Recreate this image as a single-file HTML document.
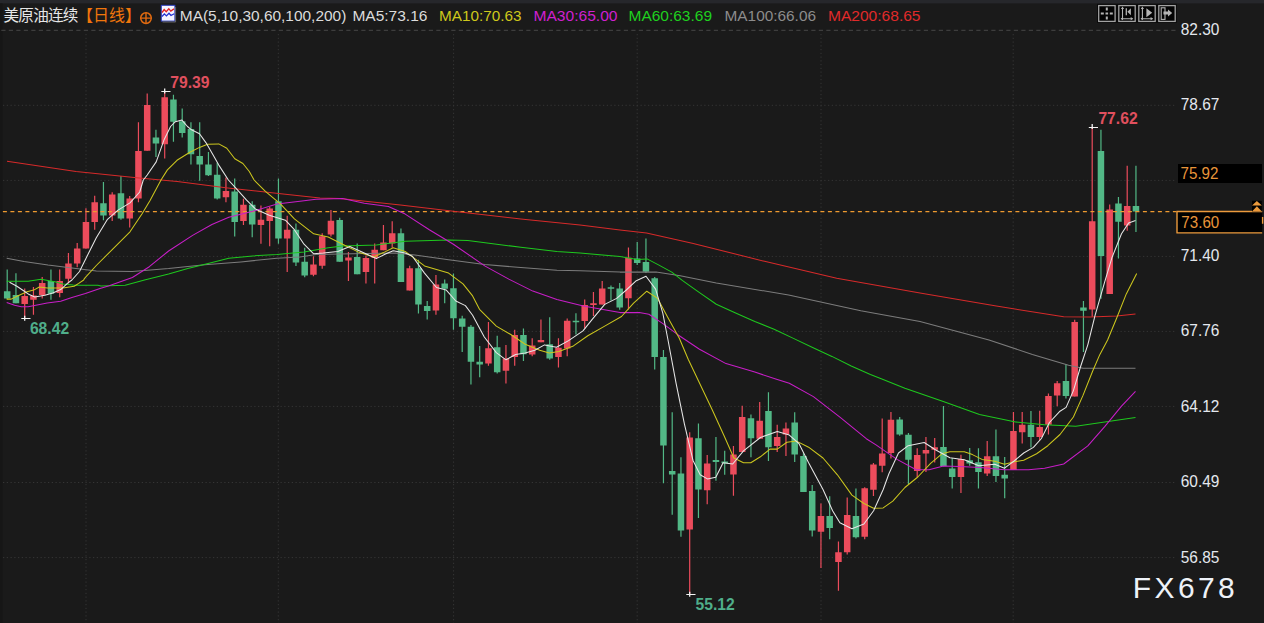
<!DOCTYPE html>
<html><head><meta charset="utf-8"><title>chart</title>
<style>html,body{margin:0;padding:0;background:#1a1a1a;overflow:hidden}body{width:1264px;height:623px;font-family:"Liberation Sans",sans-serif}</style>
</head><body>
<svg width="1264" height="623" viewBox="0 0 1264 623" style="display:block;font-family:'Liberation Sans',sans-serif">
<rect width="1264" height="623" fill="#1a1a1a"/>
<rect width="1264" height="3.4" fill="#26272b"/>
<rect x="0" y="3.4" width="2.6" height="623" fill="#161616"/>
<g stroke="#353535" stroke-width="1" stroke-dasharray="1.25 2.5" fill="none">
<path d="M3 105.3H1176"/>
<path d="M3 180.4H1176"/>
<path d="M3 256.4H1176"/>
<path d="M3 331.4H1176"/>
<path d="M3 406.4H1176"/>
<path d="M3 482.5H1176"/>
<path d="M3 557.6H1176"/>
<path d="M86 34V623"/>
<path d="M278.3 34V623"/>
<path d="M453.6 34V623"/>
<path d="M637.2 34V623"/>
<path d="M821 34V623"/>
<path d="M1013.2 34V623"/>
</g>
<path d="M1.3 30.3H1176" stroke="#464646" stroke-width="1" stroke-dasharray="4.2 3.3" fill="none"/>
<path d="M24.70 288.4V319.0M33.45 287.0V314.8M42.20 277.0V298.5M59.70 269.6V297.3M68.45 253.0V283.5M77.20 243.0V267.2M85.95 208.2V248.6M94.70 195.7V229.8M112.20 192.3V221.0M129.70 196.0V227.4M138.45 122.3V202.2M147.20 93.4V150.7M164.70 91.7V158.6M225.95 177.6V202.2M243.45 198.8V225.0M260.95 205.5V243.8M269.70 207.0V246.2M287.20 215.7V272.0M313.45 256.2V276.2M322.20 233.3V268.7M330.95 210.0V236.5M348.45 252.1V281.0M365.95 255.5V283.4M374.70 243.5V283.4M383.45 224.9V250.2M392.20 221.3V247.8M409.70 265.8V290.6M435.95 275.0V314.7M488.45 322.0V365.8M505.95 344.9V383.4M514.70 329.7V365.8M532.20 338.2V356.2M540.95 319.6V342.3M558.45 338.2V367.5M567.20 318.4V356.2M584.70 299.5V328.4M593.45 292.0V316.0M602.20 281.1V304.6M628.45 247.4V309.6M689.70 432.2V595.0M707.20 455.1V504.2M733.45 446.0V495.8M742.20 405.7V452.0M759.70 402.1V438.7M777.20 424.8V452.0M785.95 422.4V456.1M820.95 503.5V568.0M838.45 541.6V590.7M847.20 497.5V554.6M864.70 487.2V539.2M873.45 463.0V496.0M882.20 418.4V472.3M890.95 412.1V458.6M917.20 448.3V477.0M925.95 437.0V472.0M934.70 438.0V462.6M960.95 454.8V493.0M987.20 441.0V476.1M1013.45 411.9V469.9M1022.20 411.9V443.4M1039.70 410.7V440.4M1048.45 393.5V434.5M1057.20 381.0V406.2M1074.70 319.7V396.6M1092.20 127.3V316.8M1109.70 204.4V293.9M1127.20 165.8V230.8" stroke="#ec4c5c" stroke-width="1.2" fill="none"/>
<path d="M7.20 269.6V299.2M15.95 273.2V303.3M50.95 269.6V299.7M103.45 182.0V220.2M120.95 176.0V219.7M155.95 129.7V157.0M173.45 94.8V141.8M182.20 108.5V137.4M190.95 122.3V164.6M199.70 122.3V180.8M208.45 151.9V176.0M217.20 162.7V199.6M234.70 178.4V236.6M252.20 201.2V237.3M278.45 178.4V243.8M295.95 223.5V265.9M304.70 247.8V277.2M339.70 217.7V261.8M357.20 243.5V274.3M400.95 228.5V282.0M418.45 259.8V313.5M427.20 301.0V319.5M444.70 279.6V303.2M453.45 273.6V329.7M462.20 315.8V352.1M470.95 324.9V384.6M479.70 346.1V377.2M497.20 335.7V373.6M523.45 328.5V361.0M549.70 317.2V359.8M575.95 313.3V334.6M610.95 285.5V300.5M619.70 283.1V309.8M637.20 242.1V265.0M645.95 238.5V273.0M654.70 277.0V369.5M663.45 350.1V483.2M672.20 412.2V514.8M680.95 457.3V536.8M698.45 423.5V518.0M715.95 437.0V480.7M724.70 450.8V474.7M750.95 414.6V457.3M768.45 392.3V460.9M794.70 412.2V462.1M803.45 453.2V492.0M812.20 485.0V536.5M829.70 496.3V539.2M855.95 488.4V538.4M899.70 416.9V435.7M908.45 433.0V484.0M943.45 406.1V466.2M952.20 457.9V488.5M969.70 448.0V465.8M978.45 448.3V488.5M995.95 429.5V481.9M1004.70 457.1V498.2M1030.95 411.0V447.5M1065.95 364.0V398.5M1083.45 301.1V352.0M1100.95 129.7V298.7M1118.45 197.1V258.5M1135.95 165.8V232.0" stroke="#52b886" stroke-width="1.2" fill="none"/>
<path d="M21.45 296.0h6.5V304.0h-6.5zM30.20 295.6h6.5V299.7h-6.5zM38.95 283.0h6.5V295.0h-6.5zM56.45 281.0h6.5V293.0h-6.5zM65.20 263.6h6.5V278.7h-6.5zM73.95 248.6h6.5V263.6h-6.5zM82.70 222.1h6.5V248.6h-6.5zM91.45 202.2h6.5V222.1h-6.5zM108.95 194.5h6.5V215.6h-6.5zM126.45 198.4h6.5V218.5h-6.5zM135.20 151.1h6.5V198.4h-6.5zM143.95 104.9h6.5V150.7h-6.5zM161.45 97.2h6.5V144.2h-6.5zM222.70 191.0h6.5V197.2h-6.5zM240.20 204.8h6.5V221.0h-6.5zM257.70 219.7h6.5V225.0h-6.5zM266.45 208.4h6.5V221.0h-6.5zM283.95 229.8h6.5V238.4h-6.5zM310.20 264.6h6.5V274.8h-6.5zM318.95 236.2h6.5V265.8h-6.5zM327.70 220.8h6.5V234.5h-6.5zM345.20 257.4h6.5V260.6h-6.5zM362.70 258.1h6.5V271.9h-6.5zM371.45 249.7h6.5V258.1h-6.5zM380.20 242.5h6.5V250.2h-6.5zM388.95 233.3h6.5V243.5h-6.5zM406.45 268.3h6.5V290.6h-6.5zM432.70 284.6h6.5V310.4h-6.5zM485.20 348.3h6.5V363.4h-6.5zM502.70 358.6h6.5V370.7h-6.5zM511.45 335.0h6.5V356.9h-6.5zM528.95 345.4h6.5V354.5h-6.5zM537.70 340.1h6.5V342.3h-6.5zM555.20 347.8h6.5V356.9h-6.5zM563.95 320.7h6.5V348.5h-6.5zM581.45 305.0h6.5V321.0h-6.5zM590.20 303.2h6.5V305.0h-6.5zM598.95 288.4h6.5V304.6h-6.5zM625.20 257.8h6.5V298.3h-6.5zM686.45 437.5h6.5V529.5h-6.5zM703.95 463.5h6.5V490.3h-6.5zM730.20 454.4h6.5V474.5h-6.5zM738.95 417.1h6.5V452.0h-6.5zM756.45 420.7h6.5V438.7h-6.5zM773.95 437.0h6.5V446.0h-6.5zM782.70 428.6h6.5V434.6h-6.5zM817.70 516.0h6.5V531.7h-6.5zM835.20 552.2h6.5V562.0h-6.5zM843.95 515.0h6.5V552.2h-6.5zM861.45 488.2h6.5V536.8h-6.5zM870.20 464.6h6.5V489.7h-6.5zM878.95 453.4h6.5V465.8h-6.5zM887.70 419.8h6.5V453.1h-6.5zM913.95 454.9h6.5V470.9h-6.5zM922.70 450.0h6.5V453.6h-6.5zM931.45 447.3h6.5V449.8h-6.5zM957.70 459.0h6.5V477.1h-6.5zM983.95 456.2h6.5V473.4h-6.5zM1010.20 430.9h6.5V469.9h-6.5zM1018.95 424.8h6.5V432.2h-6.5zM1036.45 427.1h6.5V437.0h-6.5zM1045.20 395.9h6.5V424.8h-6.5zM1053.95 383.3h6.5V395.4h-6.5zM1071.45 322.1h6.5V396.6h-6.5zM1088.95 221.2h6.5V309.6h-6.5zM1106.45 209.6h6.5V293.9h-6.5zM1123.95 206.0h6.5V225.4h-6.5z" fill="#ec4c5c"/>
<path d="M3.95 291.2h6.5V298.5h-6.5zM12.70 295.1h6.5V303.3h-6.5zM47.70 281.0h6.5V293.7h-6.5zM100.20 203.3h6.5V215.6h-6.5zM117.70 193.3h6.5V218.5h-6.5zM152.70 137.4h6.5V143.4h-6.5zM170.20 99.6h6.5V121.8h-6.5zM178.95 121.3h6.5V133.0h-6.5zM187.70 129.0h6.5V154.3h-6.5zM196.45 156.0h6.5V164.6h-6.5zM205.20 164.6h6.5V175.2h-6.5zM213.95 174.7h6.5V198.4h-6.5zM231.45 191.6h6.5V222.1h-6.5zM248.95 204.8h6.5V224.5h-6.5zM275.20 201.2h6.5V238.5h-6.5zM292.70 229.8h6.5V262.6h-6.5zM301.45 261.8h6.5V275.5h-6.5zM336.45 220.1h6.5V261.8h-6.5zM353.95 256.9h6.5V274.3h-6.5zM397.70 233.3h6.5V282.0h-6.5zM415.20 268.3h6.5V304.4h-6.5zM423.95 305.9h6.5V311.0h-6.5zM441.45 283.4h6.5V288.7h-6.5zM450.20 288.2h6.5V318.3h-6.5zM458.95 318.5h6.5V326.8h-6.5zM467.70 326.8h6.5V361.8h-6.5zM476.45 361.8h6.5V364.6h-6.5zM493.95 347.3h6.5V372.3h-6.5zM520.20 335.0h6.5V354.3h-6.5zM546.45 344.2h6.5V358.6h-6.5zM572.70 320.7h6.5V322.3h-6.5zM607.70 287.2h6.5V288.8h-6.5zM616.45 288.4h6.5V307.5h-6.5zM633.95 258.5h6.5V263.1h-6.5zM642.70 262.1h6.5V271.8h-6.5zM651.45 278.3h6.5V356.9h-6.5zM660.20 356.9h6.5V445.5h-6.5zM668.95 471.1h6.5V474.5h-6.5zM677.70 473.5h6.5V530.5h-6.5zM695.20 438.2h6.5V489.6h-6.5zM712.70 460.0h6.5V462.0h-6.5zM721.45 461.5h6.5V463.2h-6.5zM747.70 418.3h6.5V438.2h-6.5zM765.20 411.0h6.5V447.2h-6.5zM791.45 422.4h6.5V454.4h-6.5zM800.20 456.1h6.5V492.0h-6.5zM808.95 491.0h6.5V530.5h-6.5zM826.45 516.0h6.5V528.0h-6.5zM852.70 516.0h6.5V537.2h-6.5zM896.45 419.6h6.5V434.5h-6.5zM905.20 434.8h6.5V459.7h-6.5zM940.20 447.1h6.5V466.2h-6.5zM948.95 468.5h6.5V477.1h-6.5zM966.45 460.2h6.5V463.4h-6.5zM975.20 462.3h6.5V472.1h-6.5zM992.70 456.2h6.5V475.9h-6.5zM1001.45 474.7h6.5V478.6h-6.5zM1027.70 424.8h6.5V437.0h-6.5zM1062.70 381.0h6.5V395.9h-6.5zM1080.20 307.6h6.5V310.8h-6.5zM1097.70 150.9h6.5V255.9h-6.5zM1115.20 203.4h6.5V221.8h-6.5zM1132.70 206.0h6.5V211.6h-6.5z" fill="#52b886"/>
<path d="M2.9 211.6H1176.5" stroke="#ee9a30" stroke-width="1.3" stroke-dasharray="4 3.5" fill="none"/>
<path d="M7.0 161.3 L76.0 171.5 L136.7 177.8 L177.2 181.6 L227.8 188.0 L278.5 193.5 L320.0 198.0 L340.0 198.4 L400.4 204.9 L453.4 211.2 L520.8 218.9 L580.0 224.9 L620.0 230.0 L646.5 232.9 L692.2 243.2 L764.5 261.3 L836.7 278.2 L920.0 293.1 L996.3 306.0 L1063.7 316.8 L1090.0 317.0 L1116.7 316.0 L1135.5 313.9" stroke="#d62a2a" stroke-width="1.05" fill="none" stroke-linejoin="round"/>
<path d="M6.7 258.3 L24.0 261.4 L48.0 265.0 L72.0 267.9 L96.3 271.0 L132.4 271.5 L168.6 268.6 L204.7 264.8 L240.8 261.9 L276.9 258.3 L300.0 257.0 L316.0 254.5 L352.0 253.8 L395.6 253.1 L414.8 255.0 L448.6 259.8 L484.7 264.6 L520.8 267.5 L556.9 270.2 L580.0 270.7 L620.0 272.1 L656.1 272.1 L680.2 275.7 L716.3 283.0 L788.6 295.0 L860.8 310.7 L920.0 321.5 L989.0 340.0 L1032.4 354.4 L1068.6 365.3 L1083.0 368.2 L1135.5 368.2" stroke="#7c7c7c" stroke-width="1.05" fill="none" stroke-linejoin="round"/>
<path d="M6.7 281.3 L28.1 281.3 L41.0 279.2 L55.0 281.7 L62.9 283.9 L73.0 285.1 L97.8 285.3 L101.1 285.9 L125.2 285.2 L144.5 279.9 L168.6 273.9 L187.8 268.6 L207.1 263.8 L228.8 258.3 L252.8 255.9 L276.9 254.6 L304.0 252.1 L328.2 247.8 L342.6 245.9 L376.3 244.9 L405.2 241.3 L448.6 240.1 L467.8 240.6 L496.7 244.2 L520.8 247.3 L556.9 251.4 L580.0 253.1 L620.0 256.5 L636.9 259.4 L647.0 258.9 L658.5 264.9 L671.8 272.1 L682.6 280.6 L699.5 292.6 L716.3 304.2 L735.6 313.1 L754.8 321.5 L774.1 329.2 L793.4 338.4 L812.6 347.5 L831.9 356.4 L851.2 366.0 L870.4 374.5 L882.5 379.3 L904.9 388.2 L943.3 401.4 L979.5 414.6 L1015.6 421.9 L1044.5 424.8 L1075.8 426.2 L1104.7 421.9 L1135.5 417.5" stroke="#1ec81e" stroke-width="1.05" fill="none" stroke-linejoin="round"/>
<path d="M6.7 302.5 L14.6 305.3 L21.3 306.7 L28.1 306.7 L37.1 304.9 L47.2 303.0 L60.7 301.3 L71.9 297.4 L85.4 293.5 L100.0 288.4 L108.4 286.0 L132.4 277.5 L149.3 266.7 L168.6 251.0 L192.6 235.4 L211.9 224.5 L228.8 217.3 L252.8 211.3 L276.9 204.1 L300.0 201.2 L316.0 199.2 L342.6 198.4 L364.3 203.2 L388.4 206.4 L405.2 214.1 L429.3 229.7 L453.4 244.2 L484.7 265.9 L508.8 279.1 L532.8 291.1 L556.9 299.6 L583.3 306.0 L620.0 312.6 L639.3 312.6 L648.9 314.3 L663.3 323.9 L677.8 334.7 L699.5 349.2 L726.0 363.6 L754.8 372.1 L776.5 379.3 L789.3 383.3 L813.4 396.6 L839.9 417.1 L866.3 438.7 L876.0 444.9 L897.0 459.4 L916.2 469.8 L929.0 469.8 L943.5 466.1 L959.5 466.6 L980.4 467.4 L1004.5 469.8 L1028.5 469.8 L1044.6 468.2 L1063.7 464.0 L1087.8 445.9 L1104.7 426.7 L1121.5 406.2 L1135.5 391.3" stroke="#c81ec8" stroke-width="1.05" fill="none" stroke-linejoin="round"/>
<path d="M6.7 299.1 L11.2 299.1 L18.0 295.7 L27.0 291.8 L33.7 290.1 L39.3 287.0 L47.2 288.1 L62.9 287.9 L74.2 286.2 L78.7 283.4 L83.7 280.0 L84.3 278.7 L96.3 265.5 L113.2 248.6 L130.0 231.8 L142.1 213.7 L150.2 200.2 L161.0 180.0 L167.4 169.9 L177.0 160.3 L189.9 152.2 L199.5 147.4 L207.5 144.2 L218.8 143.9 L226.8 148.2 L234.8 158.7 L242.9 163.5 L249.3 171.5 L254.1 180.0 L265.4 191.4 L280.4 203.9 L294.4 218.9 L313.7 233.8 L328.2 237.0 L342.6 244.2 L359.5 252.6 L373.9 256.9 L383.5 252.6 L393.2 247.8 L405.2 251.4 L414.8 258.6 L424.5 265.9 L436.5 269.5 L448.6 273.1 L463.0 283.9 L472.6 295.9 L479.5 309.3 L496.3 326.1 L510.8 334.5 L525.2 344.2 L539.7 350.2 L549.3 353.1 L558.9 351.4 L573.4 345.9 L587.8 335.7 L604.7 326.1 L621.5 316.5 L633.6 303.2 L646.8 291.2 L657.6 298.4 L667.3 316.5 L679.3 338.2 L688.2 359.3 L700.2 384.5 L712.2 409.8 L724.3 436.3 L733.9 458.0 L743.5 462.8 L750.8 462.8 L760.4 456.8 L770.0 449.1 L777.3 449.1 L786.9 442.3 L796.5 441.1 L808.6 447.2 L823.0 458.0 L837.4 474.8 L851.9 495.1 L863.9 503.5 L873.6 508.3 L883.2 507.9 L892.8 501.1 L904.9 487.5 L917.8 477.0 L930.6 463.4 L941.9 453.8 L949.9 451.7 L964.3 451.7 L972.4 454.6 L982.0 459.4 L994.8 461.3 L1004.5 464.2 L1014.1 461.8 L1023.7 460.2 L1036.6 453.8 L1047.8 445.7 L1060.0 434.5 L1073.4 417.0 L1083.0 395.4 L1092.6 371.3 L1099.9 354.4 L1107.6 340.0 L1116.7 318.0 L1126.3 293.9 L1136.7 273.4" stroke="#ccc61e" stroke-width="1.05" fill="none" stroke-linejoin="round"/>
<path d="M9.5 282.2 L16.9 286.2 L23.6 290.7 L29.2 294.6 L34.8 296.9 L44.9 295.2 L52.8 292.9 L60.7 289.6 L67.4 283.4 L71.9 280.0 L79.5 271.5 L87.9 254.6 L96.3 237.8 L107.2 219.7 L118.0 210.1 L130.0 202.9 L139.7 192.0 L143.3 180.0 L147.2 175.0 L156.2 161.9 L164.2 139.4 L170.6 126.5 L175.4 121.7 L181.9 120.1 L187.5 126.5 L191.5 129.8 L199.5 133.8 L205.9 142.6 L212.4 153.8 L218.8 165.1 L228.4 180.0 L235.4 187.6 L246.6 200.2 L255.4 208.9 L269.2 215.2 L285.4 220.2 L294.4 229.7 L304.0 244.2 L313.7 253.8 L323.3 253.1 L337.8 251.4 L349.8 246.6 L364.3 253.1 L376.3 258.6 L386.0 253.8 L393.2 250.7 L405.2 253.1 L412.4 256.2 L424.5 273.1 L436.5 287.5 L446.1 289.9 L455.8 301.0 L465.4 305.6 L472.6 315.2 L484.3 337.0 L496.3 352.6 L506.0 359.8 L515.6 354.5 L525.2 353.1 L534.8 350.2 L544.5 344.9 L556.5 347.3 L568.6 340.6 L583.0 330.9 L592.6 318.9 L604.7 304.4 L616.7 298.4 L626.3 290.0 L636.3 280.7 L646.0 276.3 L655.6 289.1 L662.8 313.2 L668.0 340.0 L676.1 383.3 L684.5 424.3 L693.0 460.4 L700.2 474.8 L707.4 478.9 L715.8 477.3 L723.1 462.8 L732.7 464.0 L743.5 450.8 L760.4 437.5 L777.3 431.5 L789.3 435.1 L798.9 443.5 L808.6 462.8 L823.0 489.5 L832.6 510.7 L839.9 522.8 L851.9 528.8 L863.9 524.0 L873.6 510.7 L883.2 489.5 L888.9 473.8 L898.5 453.0 L908.2 445.7 L924.2 442.5 L935.4 449.8 L949.9 457.8 L964.3 459.7 L978.8 465.8 L994.8 464.2 L1004.5 468.2 L1014.1 461.0 L1023.7 453.0 L1033.4 447.4 L1041.4 438.5 L1049.4 422.5 L1060.0 411.2 L1066.1 407.4 L1073.4 390.6 L1080.6 366.5 L1087.8 344.8 L1095.0 315.6 L1104.7 281.9 L1111.9 257.8 L1121.5 233.7 L1128.7 222.9 L1135.5 220.5" stroke="#e6e6e6" stroke-width="1.05" fill="none" stroke-linejoin="round"/>
<path d="M161.3 91.5h9.2" stroke="#f4f4f4" stroke-width="1" fill="none"/><path d="M164.7 88.5v5" stroke="#f4f4f4" stroke-width="1.3" fill="none"/>
<path d="M21.3 318.5h9.2" stroke="#f4f4f4" stroke-width="1" fill="none"/><path d="M24.7 315.8v5" stroke="#f4f4f4" stroke-width="1.3" fill="none"/>
<path d="M686.3 594.5h9.2" stroke="#f4f4f4" stroke-width="1" fill="none"/><path d="M689.7 591.8v5" stroke="#f4f4f4" stroke-width="1.3" fill="none"/>
<path d="M1088.8 127.5h9.2" stroke="#f4f4f4" stroke-width="1" fill="none"/><path d="M1092.2 124.1v5" stroke="#f4f4f4" stroke-width="1.3" fill="none"/>
<text x="170.3" y="87.7" font-size="15.8" font-weight="bold" fill="#e0505e" textLength="39.2" lengthAdjust="spacingAndGlyphs">79.39</text>
<text x="29.9" y="334.0" font-size="15.8" font-weight="bold" fill="#4fae8a" textLength="39.2" lengthAdjust="spacingAndGlyphs">68.42</text>
<text x="695.5" y="610.3" font-size="15.8" font-weight="bold" fill="#4fae8a" textLength="39.2" lengthAdjust="spacingAndGlyphs">55.12</text>
<text x="1098.4" y="124.1" font-size="15.8" font-weight="bold" fill="#e0505e" textLength="39.2" lengthAdjust="spacingAndGlyphs">77.62</text>
<text x="1180.8" y="34.7" font-size="16.2" fill="#e4e8ee" textLength="38.6" lengthAdjust="spacingAndGlyphs">82.30</text>
<text x="1180.8" y="110.1" font-size="16.2" fill="#e4e8ee" textLength="38.6" lengthAdjust="spacingAndGlyphs">78.67</text>
<text x="1180.8" y="260.9" font-size="16.2" fill="#e4e8ee" textLength="38.6" lengthAdjust="spacingAndGlyphs">71.40</text>
<text x="1180.8" y="336.3" font-size="16.2" fill="#e4e8ee" textLength="38.6" lengthAdjust="spacingAndGlyphs">67.76</text>
<text x="1180.8" y="411.7" font-size="16.2" fill="#e4e8ee" textLength="38.6" lengthAdjust="spacingAndGlyphs">64.12</text>
<text x="1180.8" y="487.1" font-size="16.2" fill="#e4e8ee" textLength="38.6" lengthAdjust="spacingAndGlyphs">60.49</text>
<text x="1180.8" y="562.5" font-size="16.2" fill="#e4e8ee" textLength="38.6" lengthAdjust="spacingAndGlyphs">56.85</text>
<rect x="1178" y="164" width="84" height="19" fill="#000"/>
<text x="1180.5" y="179.3" font-size="16.2" fill="#e8953a" textLength="38" lengthAdjust="spacingAndGlyphs">75.92</text>
<rect x="1177" y="211.5" width="85.2" height="21.4" fill="#000"/>
<path d="M1176.4 211.5H1262.2M1176.4 232.9H1262.2M1177 211.5V232.9M1262.6 217V223.7" stroke="#ec9a3c" stroke-width="1.4" fill="none"/>
<text x="1181.3" y="227.6" font-size="16.2" fill="#e8953a" textLength="38" lengthAdjust="spacingAndGlyphs">73.60</text>
<rect x="1252" y="200.8" width="9.8" height="10.7" fill="#000"/>
<path d="M1252 205.6L1256.9 200.9L1261.8 205.6zM1252 211.5L1256.9 206.3L1261.8 211.5z" fill="#ec9a3c"/>
<text x="1132.8" y="598" font-size="30" fill="#eef2f8" textLength="102" lengthAdjust="spacing">FX678</text>
<rect x="1097" y="3.9" width="79.8" height="19" fill="#0a0a0a"/>
<rect x="1098.6999999999998" y="5.6" width="16.4" height="15.8" fill="#040404" stroke="#a2a2a2" stroke-width="1.3"/>
<rect x="1118.8" y="5.6" width="16.4" height="15.8" fill="#040404" stroke="#a2a2a2" stroke-width="1.3"/>
<rect x="1138.8" y="5.6" width="16.4" height="15.8" fill="#040404" stroke="#a2a2a2" stroke-width="1.3"/>
<rect x="1158.8" y="5.6" width="16.4" height="15.8" fill="#040404" stroke="#a2a2a2" stroke-width="1.3"/>
<path d="M1100.8 13.4h3M1105.5 13.4h2.6M1109.8 13.4h3M1106.8 7.4v3.2M1106.8 16.4v3.2" stroke="#b4b4b4" stroke-width="2" fill="none"/>
<path d="M1122.5 7.6V19.4M1121.3 18.7H1132.5" stroke="#b4b4b4" stroke-width="1.1" fill="none"/>
<path d="M1120.9 9l1.6-2.6 1.6 2.6zM1120.6 18.7l2.4-1.6v3.2zM1133.3 18.7l-2.6-1.6v3.2z" fill="#b4b4b4"/>
<path d="M1126.3 8.2V15.3" stroke="#b4b4b4" stroke-width="1.3"/><path d="M1130.9 8.2V15.3L1127.4 11.75z" fill="#b4b4b4"/>
<path d="M1142.4 7.6V19.4M1141.2 18.7H1152.4" stroke="#b4b4b4" stroke-width="1.1" fill="none"/>
<path d="M1140.8000000000002 9l1.6-2.6 1.6 2.6zM1140.5 18.7l2.4-1.6v3.2zM1153.2 18.7l-2.6-1.6v3.2z" fill="#b4b4b4"/>
<path d="M1146.4 8.2V17.3L1152.2 12.8z" fill="#b4b4b4"/>
<rect x="1161.2" y="7.8" width="3.8" height="11.6" fill="none" stroke="#b4b4b4" stroke-width="1.1"/><path d="M1163.4 13h5.5" stroke="#b4b4b4" stroke-width="3"/><path d="M1168 9.6V16.4L1172.2 13z" fill="#b4b4b4"/>
<text x="3.46" y="21.2" font-size="15.6" fill="#e6e6e6" textLength="75" lengthAdjust="spacing" style="font-family:'Liberation Sans','Noto Sans CJK SC',sans-serif">美原油连续</text>
<text x="77" y="21.2" font-size="16" fill="#f0760c" textLength="64" lengthAdjust="spacing" style="font-family:'Liberation Sans','Noto Sans CJK SC',sans-serif">【日线】</text>
<circle cx="146" cy="18.1" r="5.3" fill="none" stroke="#e06a10" stroke-width="1.5"/><path d="M140.4 18.1h11.2M146 12.5v11.2" stroke="#e06a10" stroke-width="1.4"/>
<rect x="161.3" y="5.3" width="13.6" height="15.8" fill="#f4f4ff" stroke="#2a3cc0" stroke-width="1"/>
<path d="M162 12.5l2.2-3 2 2.2 2.6-3 2 2.4 3.2-2.2" stroke="#e02020" stroke-width="1.3" fill="none"/>
<path d="M162 16.5l2.4-2.6 2 2 2.6-2.6 2 2.2 3.2-1.8" stroke="#2030d0" stroke-width="1.3" fill="none"/>
<path d="M175.6 7v15h-13" stroke="#666" stroke-width="1" fill="none"/>
<text x="179.8" y="21" font-size="15" fill="#dcdcdc" textLength="166.5" lengthAdjust="spacingAndGlyphs">MA(5,10,30,60,100,200)</text>
<text x="352.4" y="21" font-size="15" fill="#dcdcdc" textLength="75" lengthAdjust="spacingAndGlyphs">MA5:73.16</text>
<text x="439" y="21" font-size="15" fill="#cfc81c" textLength="82.5" lengthAdjust="spacingAndGlyphs">MA10:70.63</text>
<text x="533.5" y="21" font-size="15" fill="#d020d0" textLength="84" lengthAdjust="spacingAndGlyphs">MA30:65.00</text>
<text x="628.5" y="21" font-size="15" fill="#1fd01f" textLength="83.5" lengthAdjust="spacingAndGlyphs">MA60:63.69</text>
<text x="724.5" y="21" font-size="15" fill="#8c8c8c" textLength="91.5" lengthAdjust="spacingAndGlyphs">MA100:66.06</text>
<text x="828" y="21" font-size="15" fill="#e02a2a" textLength="92.5" lengthAdjust="spacingAndGlyphs">MA200:68.65</text>
</svg>
</body></html>
